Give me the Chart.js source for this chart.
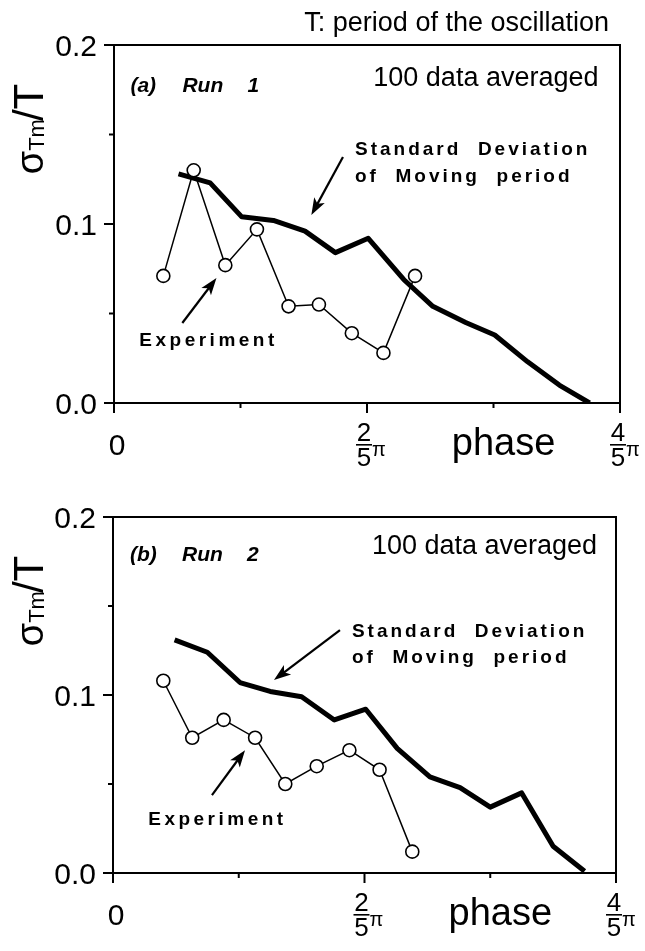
<!DOCTYPE html>
<html>
<head>
<meta charset="utf-8">
<script src="https://cdn.jsdelivr.net/npm/chart.js@4.4.1/dist/chart.umd.min.js"></script>
<style>
  body { margin: 0; background: #fff; }
  .wrap { position: absolute; left: 0; width: 645px; }
</style>
</head>
<body>
<div class="wrap" style="top:0;height:475px"><canvas id="runA" width="645" height="475"></canvas></div>
<div class="wrap" style="top:475px;height:476px"><canvas id="runB" width="645" height="476"></canvas></div>
<script>
// tick values (phase in units of pi/5)
var phaseTicks = [0, 1, 2, 3, 4];
var sigmaTicks = [0, 0.05, 0.1, 0.15, 0.2];
var sigmaLabels = ['0.0', '', '0.1', '', '0.2'];

// Run 1
var expPhaseA = [0.39, 0.63, 0.88, 1.13, 1.38, 1.62, 1.88, 2.13, 2.38];
var expSigmaA = [0.071, 0.130, 0.077, 0.097, 0.054, 0.055, 0.039, 0.028, 0.071];
var stdPhaseA = [0.51, 0.76, 1.01, 1.26, 1.51, 1.75, 2.01, 2.29, 2.52, 2.78, 3.01, 3.27, 3.52, 3.76];
var stdSigmaA = [0.128, 0.123, 0.104, 0.102, 0.096, 0.084, 0.092, 0.069, 0.054, 0.045, 0.038, 0.023, 0.010, 0.0];

// Run 2
var expPhaseB = [0.40, 0.63, 0.88, 1.13, 1.37, 1.62, 1.88, 2.12, 2.38];
var expSigmaB = [0.108, 0.076, 0.086, 0.076, 0.050, 0.060, 0.069, 0.058, 0.012];
var stdPhaseB = [0.49, 0.75, 1.01, 1.25, 1.50, 1.76, 2.01, 2.26, 2.52, 2.76, 3.00, 3.25, 3.50, 3.75];
var stdSigmaB = [0.131, 0.124, 0.107, 0.102, 0.099, 0.086, 0.092, 0.070, 0.054, 0.048, 0.037, 0.045, 0.015, 0.001];

var FONT = "'Liberation Sans', Arial, Helvetica, sans-serif";

function pts(xs, ys) {
    var out = [];
    for (var i = 0; i < xs.length; i++) out.push({x: xs[i], y: ys[i]});
    return out;
}

function arrow(ctx, x1, y1, x2, y2) {
    var a = Math.atan2(y2 - y1, x2 - x1);
    var len = 17, half = 6;
    ctx.beginPath();
    ctx.moveTo(x1, y1);
    ctx.lineTo(x2 - Math.cos(a) * len * 0.7, y2 - Math.sin(a) * len * 0.7);
    ctx.lineWidth = 2.2;
    ctx.stroke();
    ctx.beginPath();
    ctx.moveTo(x2, y2);
    ctx.lineTo(x2 - Math.cos(a) * len + Math.sin(a) * half, y2 - Math.sin(a) * len - Math.cos(a) * half);
    ctx.lineTo(x2 - Math.cos(a) * len * 0.75, y2 - Math.sin(a) * len * 0.75);
    ctx.lineTo(x2 - Math.cos(a) * len - Math.sin(a) * half, y2 - Math.sin(a) * len + Math.cos(a) * half);
    ctx.closePath();
    ctx.fill();
}

function fraction(ctx, cx, top, num) {
    ctx.textAlign = 'center';
    ctx.textBaseline = 'alphabetic';
    ctx.font = '26px ' + FONT;
    ctx.fillText(num, cx, top + 18);
    ctx.fillRect(cx - 8, top + 21, 16, 1.6);
    ctx.fillText('5', cx, top + 43);
    ctx.font = '20px ' + FONT;
    ctx.textAlign = 'left';
    ctx.fillText('\u03c0', cx + 8, top + 33);
}

// frame, ticks, labels and notes drawn over the chart
var overlay = {
    id: 'overlay',
    afterDraw: function (chart) {
        var ctx = chart.ctx, a = chart.chartArea, o = chart.options.plugins.overlay;
        var xs = chart.scales.x, ys = chart.scales.y;
        ctx.save();
        ctx.fillStyle = '#000';
        ctx.strokeStyle = '#000';
        ctx.lineWidth = 2;
        ctx.strokeRect(a.left, a.top, a.right - a.left, a.bottom - a.top);

        // y ticks
        sigmaTicks.forEach(function (v, i) {
            var py = ys.getPixelForValue(v);
            var major = sigmaLabels[i] !== '';
            ctx.beginPath();
            ctx.moveTo(a.left - (major ? 10 : 5), py);
            ctx.lineTo(a.left, py);
            ctx.stroke();
            if (major) {
                ctx.font = '30px ' + FONT;
                ctx.textAlign = 'right';
                ctx.textBaseline = 'alphabetic';
                ctx.fillText(sigmaLabels[i], a.left - 17, py + 11);
            }
        });
        // x ticks
        phaseTicks.forEach(function (v) {
            var px = xs.getPixelForValue(v);
            ctx.beginPath();
            ctx.moveTo(px, a.bottom);
            ctx.lineTo(px, a.bottom + (v % 2 === 0 ? 10 : 5));
            ctx.stroke();
        });
        ctx.font = '30px ' + FONT;
        ctx.textAlign = 'center';
        ctx.fillText('0', xs.getPixelForValue(0) + 3, a.bottom + 52);
        fraction(ctx, xs.getPixelForValue(2) - 3, a.bottom + 20, '2');
        fraction(ctx, xs.getPixelForValue(4) - 2, a.bottom + 20, '4');
        ctx.font = '38px ' + FONT;
        ctx.textAlign = 'center';
        ctx.fillText('phase', xs.getPixelForValue(3.08), a.bottom + 52);

        // y title: sigma_Tm / T
        ctx.save();
        ctx.translate(43, a.top + 83);
        ctx.rotate(-Math.PI / 2);
        ctx.textAlign = 'left';
        ctx.font = '38px ' + FONT;
        var w1 = ctx.measureText('\u03c3').width;
        ctx.font = '42px ' + FONT;
        var w3 = ctx.measureText('/T').width;
        ctx.font = '22px ' + FONT;
        var w2 = ctx.measureText('Tm').width;
        var x0 = -(w1 + w2 + w3) / 2;
        ctx.font = '38px ' + FONT;
        ctx.fillText('\u03c3', x0, 0);
        ctx.font = '22px ' + FONT;
        ctx.fillText('Tm', x0 + w1, 1);
        ctx.font = '42px ' + FONT;
        ctx.fillText('/T', x0 + w1 + w2 - 2, 0);
        ctx.restore();

        // panel notes
        var tx = xs.getPixelForValue(o.tagAt[0]), ty = ys.getPixelForValue(o.tagAt[1]);
        ctx.textAlign = 'left';
        ctx.font = 'italic bold 21px ' + FONT;
        ctx.fillText('(' + o.tag + ')', tx, ty);
        ctx.fillText('Run', tx + 52, ty);
        ctx.fillText(o.run, tx + 117, ty);

        ctx.font = '27px ' + FONT;
        ctx.textAlign = 'right';
        ctx.fillText('100 data averaged', xs.getPixelForValue(o.avgAt[0]), ys.getPixelForValue(o.avgAt[1]));

        ctx.textAlign = 'left';
        ctx.font = 'bold 19px ' + FONT;
        ctx.letterSpacing = '3px';
        ctx.fillText('Standard  Deviation', xs.getPixelForValue(o.stdAt[0]), ys.getPixelForValue(o.stdAt[1]));
        ctx.fillText('of  Moving  period', xs.getPixelForValue(o.stdAt[0]), ys.getPixelForValue(o.stdAt[1] - 0.0148));
        ctx.letterSpacing = '3.5px';
        ctx.fillText('Experiment', xs.getPixelForValue(o.expAt[0]), ys.getPixelForValue(o.expAt[1]));
        ctx.letterSpacing = '0px';

        arrow(ctx, xs.getPixelForValue(o.stdArrow[0]), ys.getPixelForValue(o.stdArrow[1]),
              xs.getPixelForValue(o.stdArrow[2]), ys.getPixelForValue(o.stdArrow[3]));
        arrow(ctx, xs.getPixelForValue(o.expArrow[0]), ys.getPixelForValue(o.expArrow[1]),
              xs.getPixelForValue(o.expArrow[2]), ys.getPixelForValue(o.expArrow[3]));

        if (o.title) {
            ctx.font = '27px ' + FONT;
            ctx.textAlign = 'right';
            ctx.fillText(o.title, 609, 31);
        }
        ctx.restore();
    }
};

function makePanel(id, expX, expY, stdX, stdY, box, notes) {
    var ctx = document.getElementById(id).getContext('2d');
    return new Chart(ctx, {
        type: 'line',
        data: {
            datasets: [
                {
                    label: 'Experiment',
                    data: pts(expX, expY),
                    borderColor: '#000',
                    borderWidth: 1.5,
                    pointRadius: 6.5,
                    pointBackgroundColor: '#fff',
                    pointBorderColor: '#000',
                    pointBorderWidth: 1.6,
                    tension: 0
                },
                {
                    label: 'Standard Deviation of Moving period',
                    data: pts(stdX, stdY),
                    borderColor: '#000',
                    borderWidth: 5,
                    borderJoinStyle: 'round',
                    pointRadius: 0,
                    tension: 0
                }
            ]
        },
        options: {
            responsive: false,
            animation: false,
            devicePixelRatio: 1,
            layout: { padding: { top: box.top, right: box.right, left: 0, bottom: 0 } },
            scales: {
                x: {
                    type: 'linear', min: 0, max: 4,
                    grid: { display: false }, border: { display: false }, ticks: { display: false },
                    afterFit: function (s) { s.height = box.xh; }
                },
                y: {
                    min: 0, max: 0.2,
                    grid: { display: false }, border: { display: false }, ticks: { display: false },
                    afterFit: function (s) { s.width = box.yw; }
                }
            },
            plugins: {
                legend: { display: false },
                tooltip: { enabled: false },
                overlay: notes
            }
        },
        plugins: [overlay]
    });
}

makePanel('runA', expPhaseA, expSigmaA, stdPhaseA, stdSigmaA,
    { top: 45, right: 25, xh: 72, yw: 114 },
    { tag: 'a', run: '1', tagAt: [0.13, 0.174], avgAt: [3.83, 0.177],
      stdAt: [1.905, 0.1385], expAt: [0.2, 0.032],
      stdArrow: [1.81, 0.1374, 1.56, 0.105], expArrow: [0.54, 0.0447, 0.81, 0.0698],
      title: 'T: period of the oscillation' });

makePanel('runB', expPhaseB, expSigmaB, stdPhaseB, stdSigmaB,
    { top: 42, right: 29, xh: 78, yw: 113 },
    { tag: 'b', run: '2', tagAt: [0.135, 0.1752], avgAt: [3.85, 0.179],
      stdAt: [1.9, 0.1326], expAt: [0.28, 0.027],
      stdArrow: [1.805, 0.1365, 1.28, 0.1084], expArrow: [0.787, 0.0438, 1.05, 0.069],
      title: null });
</script>
</body>
</html>
